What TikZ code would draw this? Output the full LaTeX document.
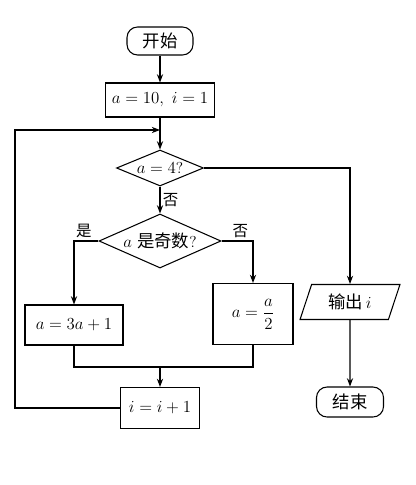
\documentclass[tikz,border=0pt]{standalone}
\usepackage{amsmath}
\usepackage{fontspec}
\newfontfamily\cjk[Scale=1.1]{Noto Sans CJK SC}
\usetikzlibrary{shapes.geometric,arrows.meta}

\tikzset{
  term/.style={draw, rounded corners=9pt, inner sep=0pt},
  proc/.style={draw, rectangle, inner sep=0pt},
  dec/.style={draw, diamond, inner sep=0pt, aspect=2.4},
  io/.style={draw, trapezium, trapezium left angle=68, trapezium right angle=112,
    trapezium stretches=true, inner sep=0pt},
  lbl/.style={font=\cjk\fontsize{12}{14}\selectfont, inner sep=2pt}
}

\begin{document}
\begin{tikzpicture}[x=0.03cm, y=-0.03cm, >=Stealth, line width=0.9pt,
  font=\fontsize{13.5}{16}\selectfont]

\useasboundingbox (0,0) rectangle (415,485);

\node[term, minimum width=1.98cm, minimum height=0.84cm] (start) at (160,41) {\cjk 开始};
\node[proc, minimum width=3.27cm, minimum height=1.02cm] (init) at (160,100) {$a=10,\ i=1$};
\node[dec, minimum width=2.61cm, minimum height=1.08cm] (d1) at (160,168) {$a=4$?};
\node[dec, minimum width=3.66cm, minimum height=1.62cm] (d2) at (160,241) {$a$\ {\cjk 是奇数}?};
\node[proc, minimum width=2.94cm, minimum height=1.2cm] (odd) at (74,325) {$a=3a+1$};
\node[proc, minimum width=2.4cm, minimum height=1.83cm] (even) at (253,314) {$a=\dfrac{a}{2}$};
\node[io, minimum width=3cm, minimum height=1.05cm] (out) at (350,302) {{\cjk 输出}\,$i$};
\node[term, minimum width=2.01cm, minimum height=0.9cm] (end) at (350,402) {\cjk 结束};
\node[proc, minimum width=2.37cm, minimum height=1.23cm] (inc) at (160,408) {$i=i+1$};

\coordinate (join) at (160,130);
\coordinate (back) at (15,130);
\coordinate (merge) at (160,367);

\draw[->] (start) -- (init);
\draw[->] (init) -- (d1);
\draw[->] (d1) -- node[lbl, right] {否} (d2);
\draw[->] (d1.east) -| (out);
\draw[->] (d2.west) -| node[lbl, pos=0.3, above] {是} (odd);
\draw[->] (d2.east) -| node[lbl, pos=0.3, above] {否} (even);
\draw[->] (out) -- (end);
\draw (odd) |- (merge) -| (even);
\draw[->] (merge) -- (inc);
\draw[->] (inc) -| (back) -- (join);

\end{tikzpicture}
\end{document}
